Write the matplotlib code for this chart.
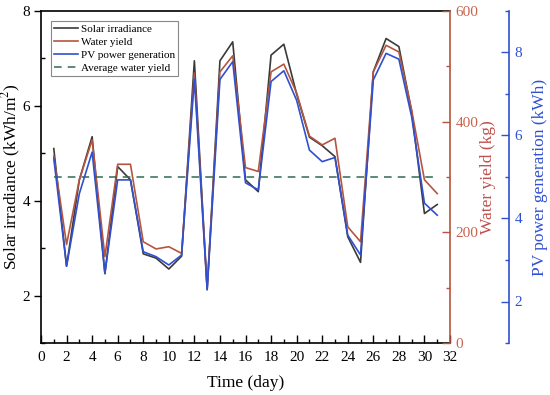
import matplotlib
matplotlib.use('Agg')
import matplotlib.pyplot as plt
from matplotlib.ticker import MultipleLocator

plt.rcParams['font.family'] = ['Liberation Serif', 'DejaVu Serif']
plt.rcParams['mathtext.fontset'] = 'stix'

days = list(range(1, 32))
solar = [5.1, 2.62, 4.44, 5.35, 2.46, 4.72, 4.44, 2.88, 2.79, 2.56, 2.83, 6.95, 2.13,
         6.95, 7.35, 4.44, 4.19, 7.07, 7.3, 6.25, 5.34, 5.16, 4.93, 3.24, 2.7, 6.72,
         7.42, 7.25, 5.88, 3.73, 3.92]
water = [338, 178, 295, 367, 156, 323, 323, 183, 170, 174, 162, 488, 100,
         490, 519, 317, 310, 490, 504, 452, 374, 358, 370, 210, 183, 490,
         538, 526, 421, 295, 270]
pv = [5.45, 2.85, 4.6, 5.6, 2.68, 4.93, 4.93, 3.2, 3.08, 2.88, 3.12, 7.36, 2.28,
      7.35, 7.78, 4.86, 4.69, 7.3, 7.56, 6.85, 5.65, 5.37, 5.47, 3.6, 3.12, 7.34,
      7.98, 7.84, 6.45, 4.37, 4.08]
avg_water = 300
avg_span = [1, 31]

c_solar = '#3a3a3a'
c_water = '#b4563f'
c_water_txt = '#c0504d'
c_pv = '#3050d0'
c_avg = '#2e6b50'

fig = plt.figure(figsize=(5.5, 3.95), dpi=100)
ax = fig.add_axes([41/550, 1-343/395, 409/550, 332/395])
ax2 = ax.twinx()
ax3 = ax.twinx()
ax3.spines['right'].set_position(('axes', (509-41)/409))

l1, = ax.plot(days, solar, color=c_solar, lw=1.2, label='Solar irradiance')
l2, = ax2.plot(days, water, color=c_water, lw=1.2, label='Water yield')
l4, = ax2.plot(avg_span, [avg_water, avg_water], color=c_avg, lw=1.1,
               ls=(0, (5, 4)), label='Average water yield')
l3, = ax3.plot(days, pv, color=c_pv, lw=1.2, label='PV power generation')

ax.set_xlim(0, 32)
ax.set_ylim(1, 8)
ax2.set_ylim(0, 600)
ax3.set_ylim(1, 9)

ax.xaxis.set_major_locator(MultipleLocator(2))
ax.xaxis.set_minor_locator(MultipleLocator(1))
ax.set_yticks([2, 4, 6, 8])
ax.yaxis.set_minor_locator(MultipleLocator(1))
ax2.yaxis.set_major_locator(MultipleLocator(200))
ax2.yaxis.set_minor_locator(MultipleLocator(100))
ax3.set_yticks([2, 4, 6, 8])
ax3.yaxis.set_minor_locator(MultipleLocator(1))

fs_tick = 11
ax.tick_params(axis='x', which='major', direction='in', length=6, width=1, labelsize=fs_tick, pad=6)
ax.tick_params(axis='x', which='minor', direction='in', length=3, width=1)
ax.tick_params(axis='y', which='major', direction='out', length=5, width=1, labelsize=fs_tick, pad=3)
ax.tick_params(axis='y', which='minor', direction='in', length=3, width=1)
ax2.tick_params(axis='y', which='major', direction='in', length=6, width=1, colors=c_water,
                labelsize=fs_tick, pad=4)
ax2.tick_params(axis='y', which='minor', direction='in', length=3, width=1, colors=c_water)
ax2.tick_params(axis='y', labelcolor='#c86450')
ax3.tick_params(axis='y', which='major', direction='in', length=6, width=1, colors=c_pv,
                labelsize=fs_tick, pad=4)
ax3.tick_params(axis='y', which='minor', direction='in', length=3, width=1, colors=c_pv)

for s in ['left', 'bottom', 'top']:
    ax.spines[s].set_color('black')
    ax.spines[s].set_linewidth(1.2)
ax2.spines['right'].set_color(c_water)
ax2.spines['right'].set_linewidth(1.2)
for s in ['left', 'top', 'bottom']:
    ax2.spines[s].set_visible(False)
    ax3.spines[s].set_visible(False)
ax.spines['right'].set_visible(False)
ax3.spines['right'].set_color(c_pv)
ax3.spines['right'].set_linewidth(1.2)

fs_lab = 12.5
ax.set_xlabel('Time (day)', fontsize=fs_lab)
ax.xaxis.set_label_coords(0.5, -0.095)
ax.set_ylabel('Solar irradiance (kWh/m$^2$)', fontsize=fs_lab)
ax.yaxis.set_label_coords(-0.045, 0.5)
ax2.set_ylabel('Water yield (kg)', fontsize=fs_lab, color=c_water_txt)
ax2.yaxis.set_label_coords(1.073, 0.5)
ax3.set_ylabel('PV power generation (kWh)', fontsize=fs_lab, color=c_pv)
ax3.yaxis.set_label_coords(1.2, 0.5)

leg = ax3.legend(handles=[l1, l2, l3, l4], loc='upper left',
                 bbox_to_anchor=(10/409, 1-10/332), fontsize=8, frameon=True,
                 fancybox=False, edgecolor='#888888', framealpha=1,
                 handlelength=2.15, handletextpad=0.3, borderpad=0.25,
                 labelspacing=0.3, borderaxespad=0)
leg.get_frame().set_linewidth(0.8)

fig.savefig('out.png', dpi=100)
